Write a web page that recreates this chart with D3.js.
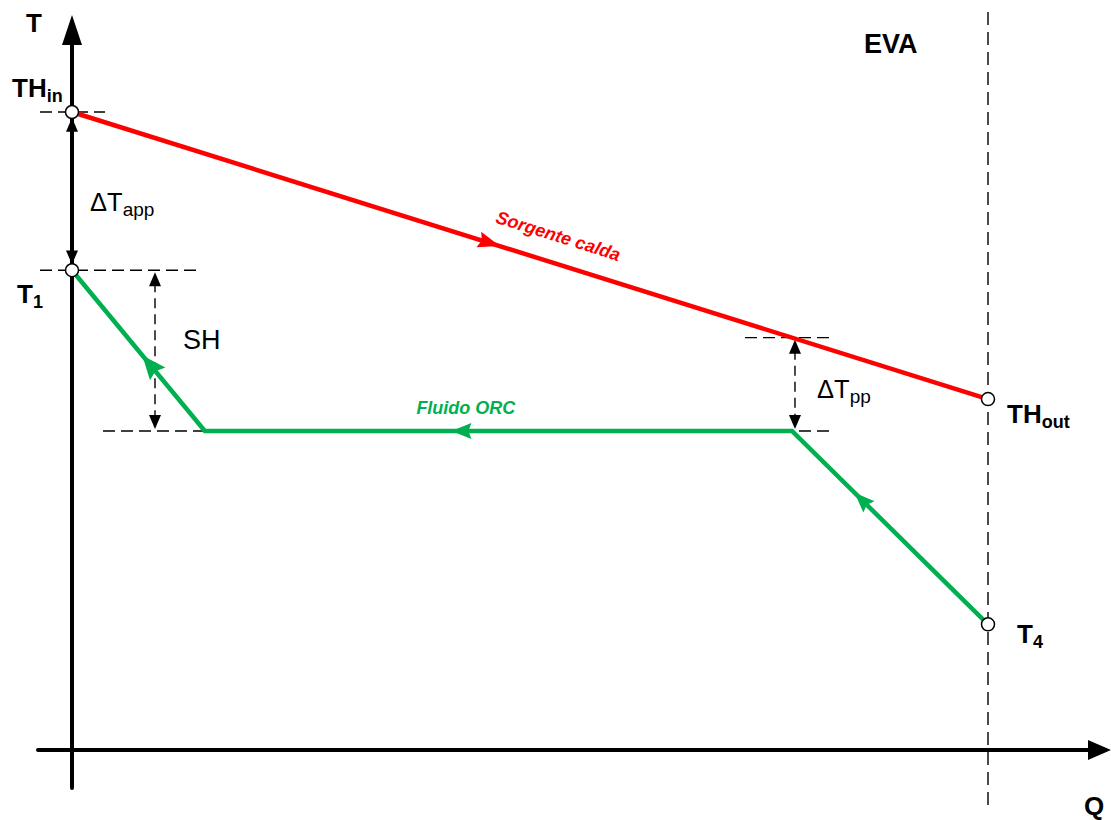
<!DOCTYPE html>
<html>
<head>
<meta charset="utf-8">
<script src="https://cdn.jsdelivr.net/npm/d3@7"></script>
<style>
  html, body { margin: 0; padding: 0; background: #fff; }
  svg { display: block; font-family: Arial, "Liberation Sans", sans-serif; }
</style>
</head>
<body>
<svg id="chart" width="1111" height="820"></svg>
<script>
// Heat exchanged (Q, % of evaporator duty) and temperature (T, relative scale)
const hotQ = [0, 100];
const hotT = [100, 55];
const orcQ = [0, 14.5, 78.6, 100];
const orcT = [75.2, 50, 50, 19.7];
const pinchQ = 78.6;

const svg = d3.select("#chart");
const x = d3.scaleLinear().domain([0, 100]).range([72, 988]);
const y = d3.scaleLinear().domain([0, 100]).range([750, 112]);

const RED = "#ff0000", GREEN = "#00b050";
const hot = hotQ.map((q, i) => ({ q, t: hotT[i] }));
const orc = orcQ.map((q, i) => ({ q, t: orcT[i] }));
const hotAt = q => d3.scaleLinear().domain(hotQ).range(hotT)(q);
const pinchT = hotAt(pinchQ);

const line = d3.line().x(d => x(d.q)).y(d => y(d.t));

// ---- axes (no ticks, arrow-ended) ----
const axes = svg.append("g");
axes.append("line").attr("x1", 38).attr("x2", 1090).attr("y1", y(0)).attr("y2", y(0))
  .attr("stroke", "#000").attr("stroke-width", 4).attr("stroke-linecap", "round");
axes.append("path").attr("d", `M1111,${y(0)} L1088,${y(0) - 10} L1088,${y(0) + 10} Z`).attr("fill", "#000");
axes.append("line").attr("x1", x(0)).attr("x2", x(0)).attr("y1", 788).attr("y2", 44)
  .attr("stroke", "#000").attr("stroke-width", 4).attr("stroke-linecap", "round");
axes.append("path").attr("d", `M${x(0)},15 L${x(0) - 10},45 L${x(0) + 10},45 Z`).attr("fill", "#000");

// evaporator outlet boundary
svg.append("line").attr("x1", x(100)).attr("x2", x(100)).attr("y1", 12).attr("y2", 812)
  .attr("stroke", "#000").attr("stroke-width", 1.4).attr("stroke-dasharray", "13,7");

// ---- dashed reference lines ----
const refs = [
  { t: hotT[0], x1: 40, x2: 105 },
  { t: orcT[0], x1: 40, x2: 197 },
  { t: orcT[1], x1: 103, x2: x(orcQ[1]) },
  { t: pinchT, x1: 745, x2: 835 },
  { t: orcT[2], x1: 745, x2: 835 }
];
svg.append("g").selectAll("line").data(refs).join("line")
  .attr("x1", d => d.x1).attr("x2", d => d.x2)
  .attr("y1", d => y(d.t)).attr("y2", d => y(d.t))
  .attr("stroke", "#000").attr("stroke-width", 1.4).attr("stroke-dasharray", "12,6");

// ---- dashed double arrows ----
function dimArrow(px, tTop, tBot) {
  const g = svg.append("g");
  const y1 = y(tTop) + 2, y2 = y(tBot) - 2;
  g.append("line").attr("x1", px).attr("x2", px).attr("y1", y1 + 10).attr("y2", y2 - 10)
    .attr("stroke", "#000").attr("stroke-width", 1.4).attr("stroke-dasharray", "10,6");
  g.append("path").attr("d", `M${px},${y1} L${px - 6},${y1 + 14} L${px + 6},${y1 + 14} Z`).attr("fill", "#000");
  g.append("path").attr("d", `M${px},${y2} L${px - 6},${y2 - 14} L${px + 6},${y2 - 14} Z`).attr("fill", "#000");
}
dimArrow(x(0), hotT[0] - 0.6, orcT[0] + 0.6);
dimArrow(155, orcT[0], orcT[1]);
dimArrow(x(pinchQ) + 3, pinchT, orcT[2]);

// ---- process lines ----
svg.append("path").datum(hot).attr("d", line).attr("fill", "none")
  .attr("stroke", RED).attr("stroke-width", 4.5);
svg.append("path").datum(orc).attr("d", line).attr("fill", "none")
  .attr("stroke", GREEN).attr("stroke-width", 4.5).attr("stroke-linejoin", "miter");

// direction arrowheads placed along segments (tip at fraction f from a to b)
function flowArrow(a, b, f, color, len, hw) {
  const ax = x(a.q), ay = y(a.t), bx = x(b.q), by = y(b.t);
  const tx = ax + (bx - ax) * f, ty = ay + (by - ay) * f;
  const ang = Math.atan2(by - ay, bx - ax) * 180 / Math.PI;
  svg.append("path")
    .attr("d", `M0,0 L${-len},${-hw} L${-len * 0.85},0 L${-len},${hw} Z`)
    .attr("transform", `translate(${tx},${ty}) rotate(${ang})`)
    .attr("fill", color);
}
flowArrow(hot[0], hot[1], 0.467, RED, 22, 8);
flowArrow(orc[2], orc[1], 0.58, GREEN, 20, 8);
flowArrow(orc[1], orc[0], 0.47, GREEN, 24, 10);
flowArrow(orc[3], orc[2], 0.68, GREEN, 20, 8);

// ---- state points ----
const pts = [hot[0], orc[0], hot[1], orc[3]];
svg.append("g").selectAll("circle").data(pts).join("circle")
  .attr("cx", d => x(d.q)).attr("cy", d => y(d.t)).attr("r", 6.5)
  .attr("fill", "#fff").attr("stroke", "#000").attr("stroke-width", 1.5);

// ---- labels ----
function label(px, py, main, sub, bold, size, subSize) {
  const t = svg.append("text").attr("x", px).attr("y", py)
    .attr("font-size", size).attr("font-weight", bold ? "bold" : "normal").attr("fill", "#000");
  t.append("tspan").text(main);
  if (sub) t.append("tspan").attr("dy", 5).attr("font-size", subSize).text(sub);
}
label(26, 32, "T", null, true, 26);
label(12, 97, "TH", "in", true, 26, 18);
label(17, 303, "T", "1", true, 26, 18);
label(90, 211, "ΔT", "app", false, 25.5, 19);
label(183, 349, "SH", null, false, 27);
label(817, 398, "ΔT", "pp", false, 25.5, 19);
label(1007, 423, "TH", "out", true, 26, 18);
label(1017, 643, "T", "4", true, 26, 18);
label(1084, 815, "Q", null, true, 26);
label(864, 53, "EVA", null, true, 27);

// stream names
const hotAng = Math.atan2(y(hotT[1]) - y(hotT[0]), x(100) - x(0)) * 180 / Math.PI;
svg.append("text")
  .attr("transform", `translate(${x(52.2)},${y(hotAt(52.2))}) rotate(${hotAng}) translate(0,-21)`)
  .attr("text-anchor", "middle").attr("font-size", 18).attr("font-weight", "bold")
  .attr("font-style", "italic").attr("fill", RED).text("Sorgente calda");
svg.append("text").attr("x", x(43.0)).attr("y", y(orcT[1]) - 17)
  .attr("text-anchor", "middle").attr("font-size", 18).attr("font-weight", "bold")
  .attr("font-style", "italic").attr("fill", GREEN).text("Fluido ORC");
</script>
</body>
</html>
